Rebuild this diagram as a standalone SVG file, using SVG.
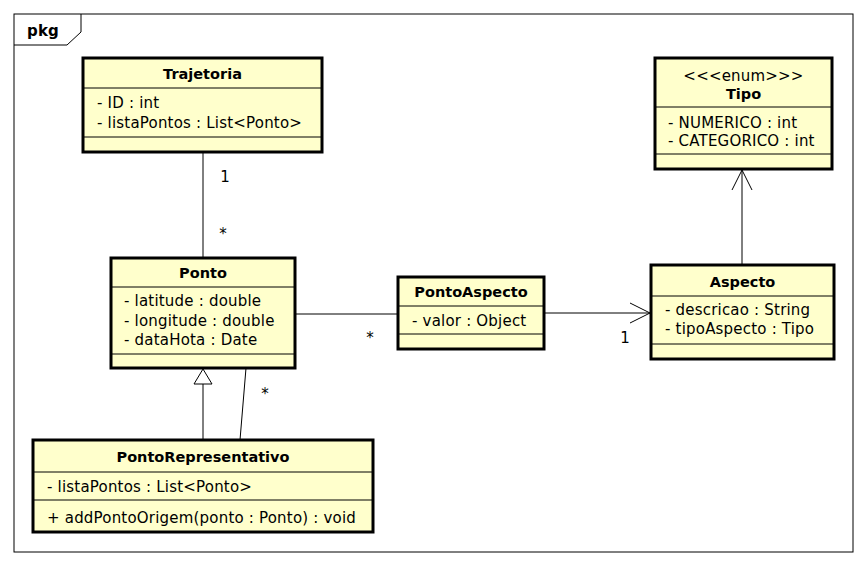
<svg xmlns="http://www.w3.org/2000/svg" width="868" height="566" viewBox="0 0 868 566">
<style>
.box{fill:#ffffcc;stroke:#000;stroke-width:3}
.div{stroke:#000;stroke-width:1}
.t{font-family:"DejaVu Sans",sans-serif;font-size:15px;fill:#000;letter-spacing:0.2px}
.b{font-weight:bold;text-anchor:middle;font-size:14.5px;letter-spacing:0}
.c{text-anchor:middle}
.ln{fill:none;stroke:#000;stroke-width:1}
</style>
<rect x="0" y="0" width="868" height="566" fill="#fff"/>
<g id="frame">
<rect x="14" y="14" width="839" height="538" fill="none" stroke="#000" stroke-width="1"/>
<path d="M14,45 H67 L81,32 V14" class="ln"/>
<text x="27" y="36" class="t" font-weight="bold">pkg</text>
</g>
<g id="connectors">
<line x1="203" y1="152" x2="203" y2="257" class="ln"/>
<text x="225" y="182" class="t c">1</text>
<text x="223" y="239" class="t c">*</text>
<line x1="203" y1="384" x2="203" y2="440" class="ln"/>
<path d="M203,369 L194,384 H212 Z" fill="#fff" stroke="#000" stroke-width="1"/>
<line x1="246" y1="368" x2="240" y2="440" class="ln"/>
<text x="265" y="399" class="t c">*</text>
<line x1="295" y1="314" x2="398" y2="314" class="ln"/>
<text x="370" y="343" class="t c">*</text>
<line x1="545" y1="313" x2="650" y2="313" class="ln"/>
<path d="M630,303 L650,313 L630,323" class="ln"/>
<text x="625" y="343" class="t c">1</text>
<line x1="742" y1="265" x2="742" y2="170" class="ln"/>
<path d="M732,190 L742,170 L752,190" class="ln"/>
</g>
<g id="Trajetoria">
<rect x="83" y="58" width="239" height="94" class="box"/>
<line x1="83" y1="88" x2="322" y2="88" class="div"/>
<line x1="83" y1="137" x2="322" y2="137" class="div"/>
<text x="202.5" y="79" class="t b">Trajetoria</text>
<text x="97" y="108" class="t">- ID : int</text>
<text x="97" y="128" class="t">- listaPontos : List&lt;Ponto&gt;</text>
</g>
<g id="Tipo">
<rect x="655" y="58" width="177" height="111" class="box"/>
<line x1="655" y1="107" x2="832" y2="107" class="div"/>
<line x1="655" y1="154" x2="832" y2="154" class="div"/>
<text x="743.5" y="81" class="t c">&lt;&lt;&lt;enum&gt;&gt;&gt;</text>
<text x="743.5" y="99" class="t b">Tipo</text>
<text x="668" y="128" class="t">- NUMERICO : int</text>
<text x="668" y="146" class="t">- CATEGORICO : int</text>
</g>
<g id="Ponto">
<rect x="111" y="258" width="184" height="110" class="box"/>
<line x1="111" y1="287" x2="295" y2="287" class="div"/>
<line x1="111" y1="354" x2="295" y2="354" class="div"/>
<text x="203" y="278" class="t b">Ponto</text>
<text x="124" y="306" class="t">- latitude : double</text>
<text x="124" y="326" class="t">- longitude : double</text>
<text x="124" y="345" class="t">- dataHota : Date</text>
</g>
<g id="PontoAspecto">
<rect x="398" y="277" width="146" height="72" class="box"/>
<line x1="398" y1="306" x2="544" y2="306" class="div"/>
<line x1="398" y1="334" x2="544" y2="334" class="div"/>
<text x="471" y="297" class="t b">PontoAspecto</text>
<text x="412" y="326" class="t">- valor : Object</text>
</g>
<g id="Aspecto">
<rect x="651" y="265" width="183" height="94" class="box"/>
<line x1="651" y1="296" x2="834" y2="296" class="div"/>
<line x1="651" y1="344" x2="834" y2="344" class="div"/>
<text x="742.5" y="287" class="t b">Aspecto</text>
<text x="665" y="315" class="t">- descricao : String</text>
<text x="665" y="334" class="t">- tipoAspecto : Tipo</text>
</g>
<g id="PontoRepresentativo">
<rect x="33" y="440" width="340" height="92" class="box"/>
<line x1="33" y1="472" x2="373" y2="472" class="div"/>
<line x1="33" y1="500" x2="373" y2="500" class="div"/>
<text x="203" y="462" class="t b">PontoRepresentativo</text>
<text x="47" y="492" class="t">- listaPontos : List&lt;Ponto&gt;</text>
<text x="47" y="523" class="t">+ addPontoOrigem(ponto : Ponto) : void</text>
</g>
</svg>
